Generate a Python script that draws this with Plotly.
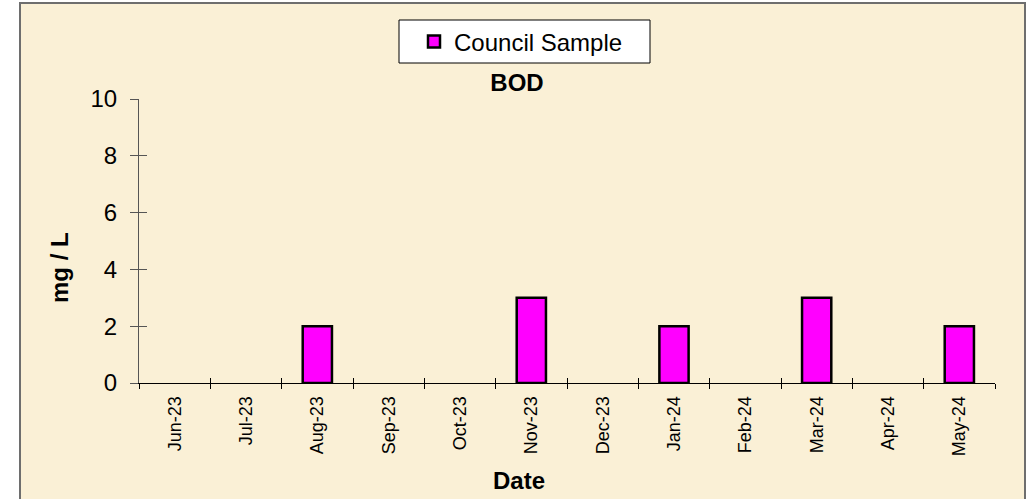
import plotly.graph_objects as go

months = ["Jun-23", "Jul-23", "Aug-23", "Sep-23", "Oct-23", "Nov-23",
          "Dec-23", "Jan-24", "Feb-24", "Mar-24", "Apr-24", "May-24"]
council_sample = [None, None, 2, None, None, 3, None, 2, None, 3, None, 2]
y_ticks = [0, 2, 4, 6, 8, 10]

W, H = 1033, 499
L, R, T, B = 139, 38, 99, 116
pw, ph = W - L - R, H - T - B

def px(x):
    return (x - L) / pw

def py(y):
    return (H - B - y) / ph

FONT = "Liberation Sans, Arial, sans-serif"

fig = go.Figure()
fig.add_trace(go.Bar(
    x=months, y=council_sample, name="Council Sample",
    marker=dict(color="#FF00FF", line=dict(color="#000000", width=2.5)),
    xaxis="x", yaxis="y",
))
# invisible copy to drive the overlay axes (cross ticks)
fig.add_trace(go.Bar(
    x=months, y=council_sample, showlegend=False, hoverinfo="skip",
    marker=dict(color="rgba(0,0,0,0)", line=dict(width=0)),
    xaxis="x2", yaxis="y2",
))

fig.update_layout(
    width=W, height=H,
    margin=dict(l=L, r=R, t=T, b=B),
    paper_bgcolor="#FFFFFF",
    plot_bgcolor="rgba(0,0,0,0)",
    bargap=0.59,
    font=dict(family=FONT, color="#000000", size=24),
    title=dict(text="<b>BOD</b>", x=517 / W, xref="container", xanchor="center",
               y=1 - 83 / H, yref="container", yanchor="middle",
               font=dict(family=FONT, size=24, color="#000000")),
    showlegend=True,
    legend=dict(x=px(414), xanchor="left", y=py(42), yanchor="middle",
                bgcolor="rgba(0,0,0,0)", borderwidth=0,
                font=dict(family=FONT, size=24, color="#000000"),
                itemclick=False, itemdoubleclick=False),
    xaxis=dict(type="category", categoryorder="array", categoryarray=months,
               tickson="boundaries", ticks="outside", ticklen=5, tickcolor="#000000",
               showline=True, linecolor="#000000", linewidth=1,
               showgrid=False, zeroline=False, tickangle=-90, ticklabelstandoff=5,
               tickfont=dict(family=FONT, size=18, color="#000000")),
    yaxis=dict(range=[0, 10], tickvals=y_ticks, ticks="outside", ticklen=8,
               tickcolor="#555555", showline=True, linecolor="#555555", linewidth=1,
               showgrid=False, zeroline=False, ticklabelstandoff=8,
               tickfont=dict(family=FONT, size=24, color="#000000")),
    xaxis2=dict(type="category", categoryorder="array", categoryarray=months,
                overlaying="x", matches="x", tickson="boundaries", ticks="inside",
                ticklen=5, tickcolor="#000000", showticklabels=False, showline=False,
                showgrid=False, zeroline=False, anchor="y2"),
    yaxis2=dict(range=[0, 10], tickvals=y_ticks, overlaying="y", ticks="inside",
                ticklen=8, tickcolor="#555555", showticklabels=False, showline=False,
                showgrid=False, zeroline=False, anchor="x2"),
    shapes=[
        dict(type="rect", xref="paper", yref="paper", layer="below",
             x0=px(20), x1=px(1025), y0=py(510), y1=py(3),
             fillcolor="#FAF0D6", line=dict(color="#6E6E6E", width=2)),
        dict(type="rect", xref="paper", yref="paper", layer="below",
             x0=px(399), x1=px(650), y0=py(63), y1=py(20),
             fillcolor="#FFFFFF", line=dict(color="#000000", width=1)),
    ],
    annotations=[
        dict(text="<b>mg / L</b>", xref="paper", yref="paper", x=px(59), y=py(268),
             xanchor="center", yanchor="middle", textangle=-90, showarrow=False,
             font=dict(family=FONT, size=24, color="#000000")),
        dict(text="<b>Date</b>", xref="paper", yref="paper", x=px(519), y=py(480),
             xanchor="center", yanchor="middle", showarrow=False,
             font=dict(family=FONT, size=24, color="#000000")),
    ],
)

fig.write_html("out.html", config={"displayModeBar": False},
               post_script="document.body.style.margin='0px';")
